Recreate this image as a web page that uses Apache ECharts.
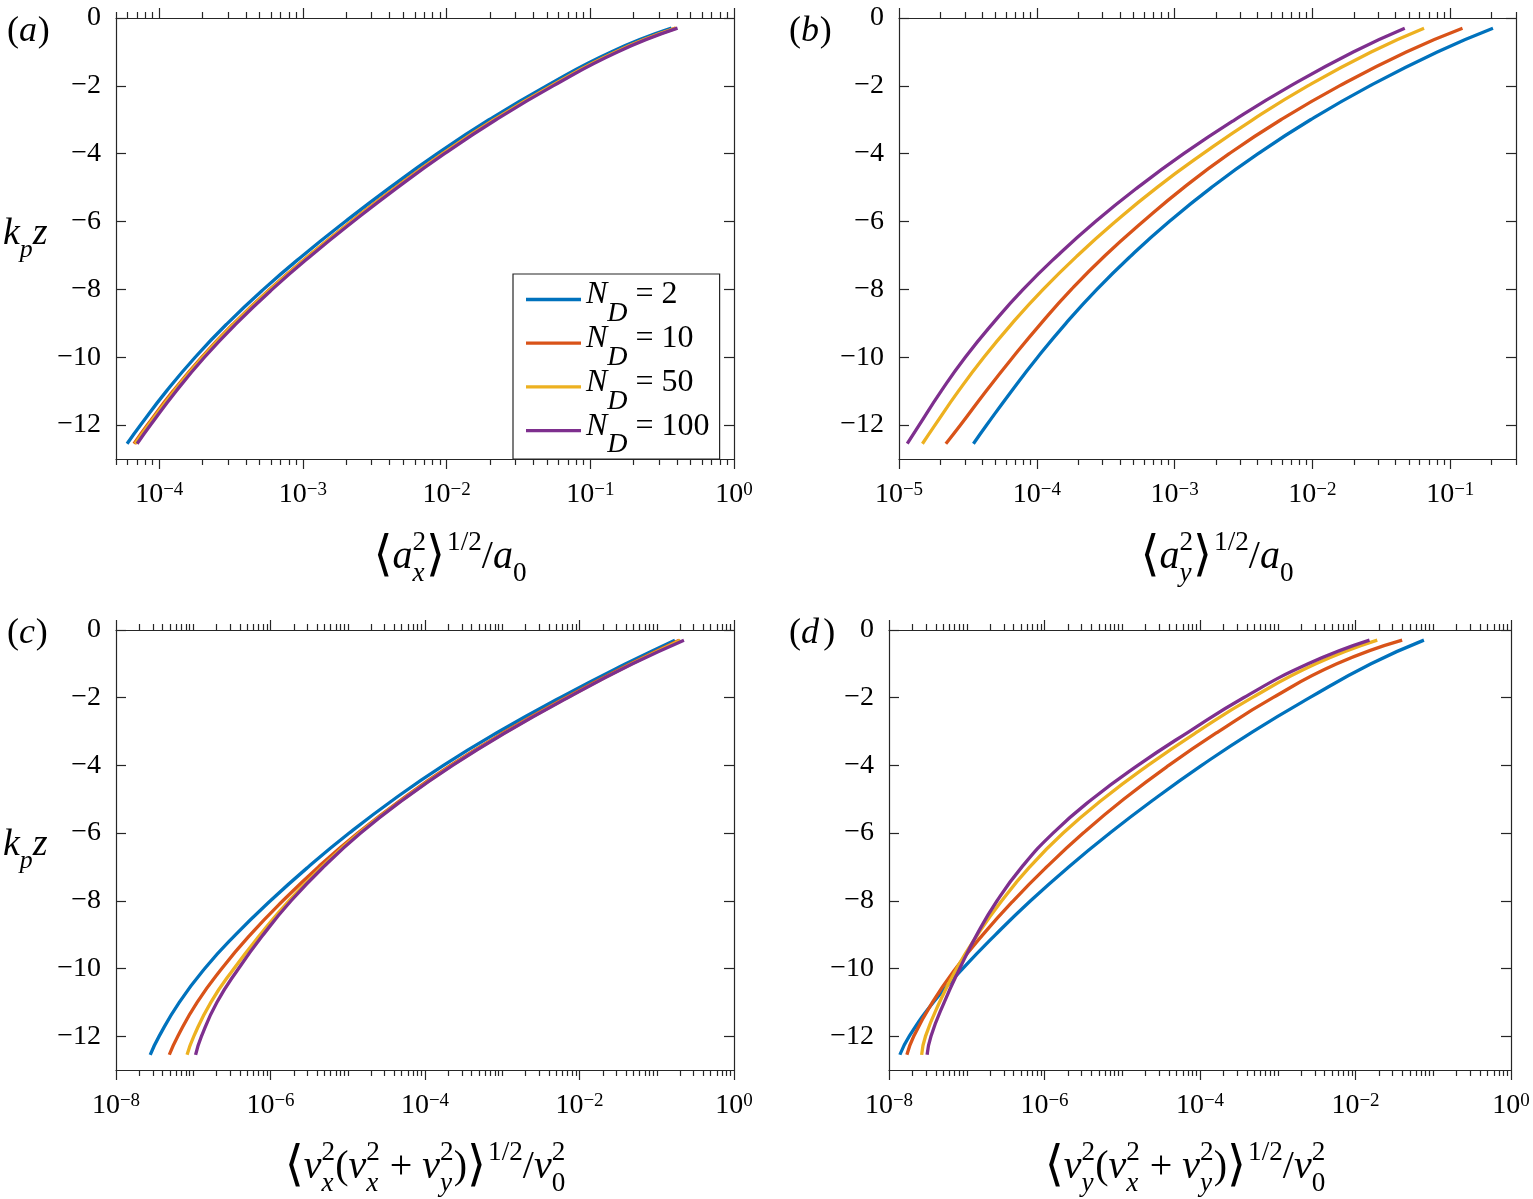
<!DOCTYPE html>
<html><head><meta charset="utf-8">
<script src="https://cdn.jsdelivr.net/npm/echarts@6.0.0/dist/echarts.min.js"></script>
<style>html,body{margin:0;padding:0;background:#fff}#chart{width:1533px;height:1199px}</style>
</head><body><div id="chart"></div>
<script>
// ---------------- data ----------------
const depth = [-12.55,-12,-11,-10,-9,-8,-7,-6,-5,-4,-3,-2,-1,-0.3];   // k_p z
const seriesNames = ['N_D = 2','N_D = 10','N_D = 50','N_D = 100'];
const seriesColors = ['#0072BD','#D95319','#EDB120','#7E2F8E'];

// (a) <a_x^2>^{1/2}/a_0
const a_ND2   = [5.97e-5,7.41e-5,1.122e-4,1.778e-4,2.985e-4,5.309e-4,1.000e-3,1.972e-3,4.027e-3,8.610e-3,1.972e-2,4.955e-2,0.1396,0.3673];
const a_ND10  = [6.67e-5,8.26e-5,1.247e-4,1.972e-4,3.304e-4,5.861e-4,1.102e-3,2.163e-3,4.395e-3,9.354e-3,2.133e-2,5.333e-2,0.1496,0.3936];
const a_ND50  = [6.79e-5,8.414e-5,1.268e-4,2.000e-4,3.342e-4,5.916e-4,1.109e-3,2.178e-3,4.426e-3,9.419e-3,2.143e-2,5.358e-2,0.1503,0.3936];
const a_ND100 = [7.01e-5,8.690e-5,1.309e-4,2.065e-4,3.451e-4,6.109e-4,1.143e-3,2.239e-3,4.539e-3,9.661e-3,2.203e-2,5.508e-2,0.1545,0.4046];
// (b) <a_y^2>^{1/2}/a_0
const b_ND2   = [3.467e-5,4.325e-5,6.546e-5,1.014e-4,1.626e-4,2.729e-4,4.853e-4,9.141e-4,1.845e-3,4.036e-3,9.683e-3,2.606e-2,8.054e-2,0.2042];
const b_ND10  = [2.188e-5,2.793e-5,4.276e-5,6.699e-5,1.074e-4,1.782e-4,3.133e-4,5.902e-4,1.164e-3,2.489e-3,5.902e-3,1.570e-2,4.797e-2,0.1227];
const b_ND50  = [1.479e-5,1.824e-5,2.698e-5,4.130e-5,6.622e-5,1.112e-4,1.977e-4,3.724e-4,7.430e-4,1.607e-3,3.681e-3,9.247e-3,2.667e-2,6.457e-2];
const b_ND100 = [1.148e-5,1.400e-5,2.023e-5,3.027e-5,4.797e-5,7.962e-5,1.416e-4,2.667e-4,5.383e-4,1.164e-3,2.729e-3,6.934e-3,1.977e-2,4.677e-2];
// (c) <v_x^2(v_x^2+v_y^2)>^{1/2}/v_0^2
const c_ND2   = [2.773e-8,3.622e-8,6.592e-8,1.409e-7,3.540e-7,9.977e-7,3.083e-6,1.045e-5,3.972e-5,1.734e-4,9.099e-4,5.610e-3,3.972e-2,0.1718];
const c_ND10  = [4.898e-8,6.310e-8,1.122e-7,2.344e-7,5.495e-7,1.445e-6,4.169e-6,1.349e-5,5.012e-5,2.138e-4,1.096e-3,6.607e-3,4.571e-2,0.1950];
const c_ND50  = [8.318e-8,1.019e-7,1.690e-7,3.373e-7,7.379e-7,1.730e-6,4.656e-6,1.406e-5,5.224e-5,2.228e-4,1.143e-3,6.887e-3,4.764e-2,0.2032];
const c_ND100 = [1.072e-7,1.279e-7,2.028e-7,3.864e-7,8.072e-7,1.849e-6,4.864e-6,1.469e-5,5.333e-5,2.275e-4,1.167e-3,7.031e-3,4.864e-2,0.2249];
// (d) <v_y^2(v_x^2+v_y^2)>^{1/2}/v_0^2
const d_ND2   = [1.380e-8,1.824e-8,3.724e-8,8.933e-8,2.350e-7,6.622e-7,2.046e-6,6.934e-6,2.576e-5,1.050e-4,4.797e-4,2.576e-3,1.585e-2,7.586e-2];
const d_ND10  = [1.698e-8,2.080e-8,3.614e-8,7.211e-8,1.614e-7,3.963e-7,1.067e-6,3.148e-6,1.042e-5,3.963e-5,1.730e-4,8.670e-4,5.754e-3,3.981e-2];
const d_ND50  = [2.630e-8,2.951e-8,4.467e-8,7.413e-8,1.380e-7,2.818e-7,6.457e-7,1.738e-6,5.623e-6,2.138e-5,9.333e-5,4.677e-4,3.090e-3,1.905e-2];
const d_ND100 = [3.090e-8,3.467e-8,5.129e-8,8.128e-8,1.349e-7,2.455e-7,5.129e-7,1.288e-6,4.074e-6,1.585e-5,7.244e-5,3.631e-4,2.455e-3,1.514e-2];

// tick labels
const yTickValues = [0,-2,-4,-6,-8,-10,-12];
const aXTicks  = [1e-4,1e-3,1e-2,1e-1,1];
const bXTicks  = [1e-5,1e-4,1e-3,1e-2,1e-1];
const cdXTicks = [1e-8,1e-6,1e-4,1e-2,1];
const xRanges = [[5e-5,1],[1e-5,0.3],[1e-8,1],[1e-8,1]];

// ---------------- layout / style ----------------
const FAM = "'Liberation Serif','Times New Roman','Nimbus Roman','DejaVu Serif',serif";
const AX = '#262626';
const TXT = '#000000';
const grids = [
  {left:116, top:18,  width:618, height:441},
  {left:899, top:18,  width:617, height:441},
  {left:116, top:630, width:618, height:440},
  {left:889, top:630, width:622, height:440}
];

function minorTicks(min, max, majors) {
  const out = [];
  for (let k = Math.floor(Math.log10(min)) - 1; k <= Math.ceil(Math.log10(max)); k++) {
    for (let m = 1; m <= 9; m++) {
      const v = parseFloat((m * Math.pow(10, k)).toPrecision(6));
      if (v < min * 0.9999 || v > max * 1.0001) continue;
      if (majors.some(t => Math.abs(t - v) / v < 1e-6)) continue;
      out.push(v);
    }
  }
  return out;
}
function fmtPow(v) {
  const e = Math.round(Math.log10(v));
  return '{b|10}{s|' + (e < 0 ? '\u2212' + (-e) : String(e)) + '}';
}
function fmtY(v) { return v < 0 ? '\u2212' + (-v) : String(v); }

const panelData = [
  [a_ND2,a_ND10,a_ND50,a_ND100],
  [b_ND2,b_ND10,b_ND50,b_ND100],
  [c_ND2,c_ND10,c_ND50,c_ND100],
  [d_ND2,d_ND10,d_ND50,d_ND100]
];
const panelMajors = [aXTicks, bXTicks, cdXTicks, cdXTicks];

const xAxis = [], yAxis = [], series = [];
const tickLine = {color: AX, width: 1.2};
panelData.forEach((curves, gi) => {
  const [mn, mx] = xRanges[gi];
  const majors = panelMajors[gi];
  const minors = minorTicks(mn, mx, majors);
  const base = {type:'log', logBase:10, gridIndex:gi, min:mn, max:mx, silent:true,
    splitLine:{show:false}, minorTick:{show:false}, minorSplitLine:{show:false}};
  const lineOn = {show:true, onZero:false, lineStyle:{color:AX, width:1.2}};
  const lineOff = {show:false, onZero:false};
  xAxis.push(Object.assign({}, base, {position:'bottom', axisLine:lineOn,
    axisTick:{show:true, inside:false, length:10, customValues:majors, lineStyle:tickLine},
    axisLabel:{show:true, customValues:majors, formatter:fmtPow, margin:22,
      rich:{
        b:{fontFamily:FAM, fontSize:28, lineHeight:32, verticalAlign:'top', color:TXT},
        s:{fontFamily:FAM, fontSize:19, lineHeight:19, verticalAlign:'top', color:TXT}
      }}}));
  xAxis.push(Object.assign({}, base, {position:'bottom', axisLine:lineOff,
    axisTick:{show:true, inside:false, length:6, customValues:minors, lineStyle:tickLine},
    axisLabel:{show:false}}));
  xAxis.push(Object.assign({}, base, {position:'top', axisLine:lineOn,
    axisTick:{show:true, inside:false, length:10, customValues:majors, lineStyle:tickLine},
    axisLabel:{show:false}}));
  xAxis.push(Object.assign({}, base, {position:'top', axisLine:lineOff,
    axisTick:{show:true, inside:false, length:6, customValues:minors, lineStyle:tickLine},
    axisLabel:{show:false}}));
  const ybase = {type:'value', gridIndex:gi, min:-13, max:0, silent:true, splitLine:{show:false}};
  yAxis.push(Object.assign({}, ybase, {position:'left', axisLine:lineOn,
    axisTick:{show:true, inside:true, length:10, customValues:yTickValues, lineStyle:tickLine},
    axisLabel:{show:true, customValues:yTickValues, formatter:fmtY, margin:15,
      fontFamily:FAM, fontSize:28, color:TXT}}));
  yAxis.push(Object.assign({}, ybase, {position:'right', axisLine:lineOn,
    axisTick:{show:true, inside:true, length:10, customValues:yTickValues, lineStyle:tickLine},
    axisLabel:{show:false}}));
  curves.forEach((vals, k) => {
    series.push({type:'line', name:seriesNames[k], xAxisIndex:gi*4, yAxisIndex:gi*2,
      data: vals.map((v, i) => [v, depth[i]]),
      showSymbol:false, symbol:'none', smooth:0.5, silent:true,
      lineStyle:{width:3.3, color:seriesColors[k]}, itemStyle:{color:seriesColors[k]},
      emphasis:{disabled:true}});
  });
});

// ---------------- math-style text (titles, labels) ----------------
const mctx = document.createElement('canvas').getContext('2d');
function tw(t, size, it) { mctx.font = (it ? 'italic ' : '') + size + 'px ' + FAM; return mctx.measureText(t).width; }
function mathEls(parts, F, anchorX, baseY, align) {
  const S = F * 0.68; let x = 0; const items = [];
  parts.forEach(p => {
    if (p.t !== undefined) {
      const size = F * (p.scale || 1);
      items.push({t:p.t, size, it:!!p.it, x:x + (p.dx || 0) * F, dy:(p.dy || 0) * F});
      x += tw(p.t, size, !!p.it) + (p.adv || 0) * F;
    } else {
      let w = 0; const x1 = x + (p.dx || 0) * F;
      if (p.sup !== undefined) { items.push({t:p.sup, size:S, it:!!p.supIt, x:x1, dy:-0.45 * F}); w = Math.max(w, tw(p.sup, S, !!p.supIt)); }
      if (p.sub !== undefined) { items.push({t:p.sub, size:S, it:!!p.subIt, x:x1, dy:0.32 * F}); w = Math.max(w, tw(p.sub, S, !!p.subIt)); }
      x = x1 + w + (p.adv || 0) * F;
    }
  });
  const x0 = align === 'left' ? anchorX : anchorX - x / 2;
  return items.map(it => ({type:'text', silent:true, x:x0 + it.x, y:baseY + it.dy - 0.32 * it.size,
    style:{text:it.t, fontFamily:FAM, fontSize:it.size, fontStyle:it.it ? 'italic' : 'normal',
      fill:TXT, align:'left', verticalAlign:'middle'}}));
}
const LB = {t:'\u27E8', scale:1.22, dy:0.06}, RB = {t:'\u27E9', scale:1.22, dy:0.06};
const titleA = [LB, {t:'a', it:1}, {sup:'2', sub:'x', subIt:1}, RB, {sup:'1/2', dx:0.05}, {t:'/'}, {t:'a', it:1}, {sub:'0'}];
const titleB = [LB, {t:'a', it:1}, {sup:'2', sub:'y', subIt:1}, RB, {sup:'1/2', dx:0.05}, {t:'/'}, {t:'a', it:1}, {sub:'0'}];
const titleC = [LB, {t:'v', it:1}, {sup:'2', sub:'x', subIt:1}, {t:'('}, {t:'v', it:1}, {sup:'2', sub:'x', subIt:1},
  {t:' + '}, {t:'v', it:1}, {sup:'2', sub:'y', subIt:1}, {t:')'}, RB, {sup:'1/2', dx:0.05}, {t:'/'}, {t:'v', it:1}, {sup:'2', sub:'0'}];
const titleD = [LB, {t:'v', it:1}, {sup:'2', sub:'y', subIt:1}, {t:'('}, {t:'v', it:1}, {sup:'2', sub:'x', subIt:1},
  {t:' + '}, {t:'v', it:1}, {sup:'2', sub:'y', subIt:1}, {t:')'}, RB, {sup:'1/2', dx:0.05}, {t:'/'}, {t:'v', it:1}, {sup:'2', sub:'0'}];
const yTitle = [{t:'k', it:1}, {sub:'p', subIt:1}, {t:'z', it:1}];
const pl = l => [{t:'('}, {t:l, it:1, adv: l === 'd' ? 0.12 : 0.02}, {t:')'}];

const TF = 40;
const graphics = [].concat(
  mathEls(titleA, TF, 450, 570),
  mathEls(titleB, TF, 1217, 570),
  mathEls(titleC, TF, 425, 1180),
  mathEls(titleD, TF, 1185, 1180),
  mathEls(yTitle, 38, 3, 246, 'left'),
  mathEls(yTitle, 38, 3, 857, 'left'),
  mathEls(pl('a'), 36, 7, 43, 'left'),
  mathEls(pl('b'), 36, 789, 43, 'left'),
  mathEls(pl('c'), 36, 7, 645, 'left'),
  mathEls(pl('d'), 36, 789, 645, 'left')
);

const chart = echarts.init(document.getElementById('chart'), null, {renderer:'canvas'});
chart.setOption({
  animation:false,
  backgroundColor:'#ffffff',
  textStyle:{fontFamily:FAM},
  grid: grids.map(g => Object.assign({containLabel:false, outerBoundsMode:'none'}, g)),
  xAxis, yAxis, series,
  legend:{
    data: seriesNames, orient:'vertical', left:513, top:274,
    padding:[5, 10, 0, 13], itemGap:-5.3, itemWidth:55, itemHeight:3.3, icon:'rect',
    borderColor:AX, borderWidth:1.2, backgroundColor:'#ffffff', selectedMode:false,
    formatter: name => '{n|N}{d|D}{t| = ' + name.split('= ')[1] + '}',
    textStyle:{fontFamily:FAM, fontSize:32, color:TXT,
      rich:{
        n:{fontFamily:FAM, fontSize:32, fontStyle:'italic', height:30, verticalAlign:'top', color:TXT},
        d:{fontFamily:FAM, fontSize:28, fontStyle:'italic', height:10, padding:[29,0,0,0], verticalAlign:'top', color:TXT},
        t:{fontFamily:FAM, fontSize:32, height:30, verticalAlign:'top', color:TXT}
      }}
  },
  graphic: graphics
});
</script></body></html>
